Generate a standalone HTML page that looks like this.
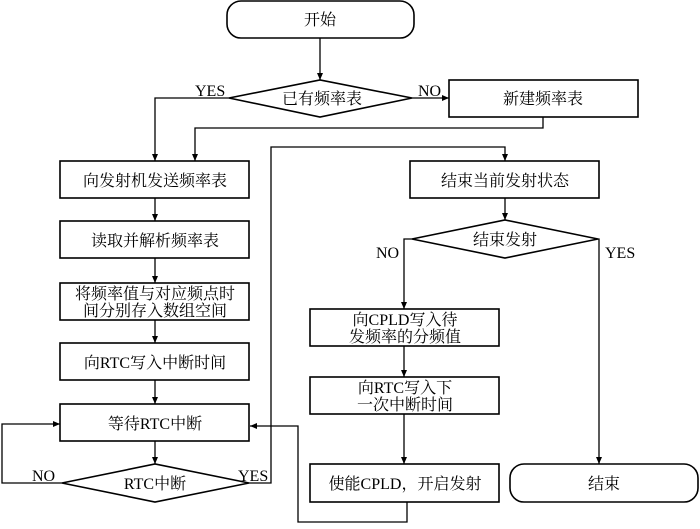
<!DOCTYPE html>
<html><head><meta charset="utf-8"><style>
html,body{margin:0;padding:0;background:#fff}
svg text{font-family:"Liberation Serif","Noto Serif CJK SC",serif;font-size:16px;fill:#000}
</style></head><body>
<svg width="700" height="524" viewBox="0 0 700 524" xmlns="http://www.w3.org/2000/svg">
<defs><marker id="a" markerWidth="8" markerHeight="8" refX="7" refY="4" orient="auto" markerUnits="userSpaceOnUse"><path d="M0,1 L7,4 L0,7 Z" fill="#000"/></marker></defs>
<g fill="none" stroke="#000" stroke-width="1.6">
<rect x="227" y="1" width="187" height="37" rx="14"/>
<polygon points="229,98 320,80 412,98 320,117"/>
<rect x="449" y="80" width="189" height="37"/>
<rect x="60" y="161" width="189" height="37"/>
<rect x="60" y="221" width="189" height="37"/>
<rect x="60" y="283" width="189" height="37"/>
<rect x="60" y="343" width="189" height="37"/>
<rect x="60" y="404" width="189" height="37"/>
<polygon points="62,483 155,464 249,483 155,502"/>
<rect x="410" y="161" width="189" height="37"/>
<polygon points="412,239 505,220 598,239 505,258"/>
<rect x="310" y="309" width="189" height="37"/>
<rect x="310" y="377" width="189" height="37"/>
<rect x="310" y="464" width="189" height="38"/>
<rect x="510" y="464" width="188" height="38" rx="14"/>
</g>
<g fill="none" stroke="#000" stroke-width="1.3">
<path d="M320,38 V80" marker-end="url(#a)"/>
<path d="M229,98 H155 V161" marker-end="url(#a)"/>
<path d="M412,98 H449" marker-end="url(#a)"/>
<path d="M543,117 V128 H195 V161" marker-end="url(#a)"/>
<path d="M155,198 V221" marker-end="url(#a)"/>
<path d="M155,258 V283" marker-end="url(#a)"/>
<path d="M155,320 V343" marker-end="url(#a)"/>
<path d="M155,380 V404" marker-end="url(#a)"/>
<path d="M155,441 V464" marker-end="url(#a)"/>
<path d="M62,483 H2 V424 H60" marker-end="url(#a)"/>
<path d="M249,483 H271 V147 H505 V161" marker-end="url(#a)"/>
<path d="M505,198 V220" marker-end="url(#a)"/>
<path d="M412,239 H404 V309" marker-end="url(#a)"/>
<path d="M598,239 H599 V464" marker-end="url(#a)"/>
<path d="M404,346 V377" marker-end="url(#a)"/>
<path d="M404,414 V464" marker-end="url(#a)"/>
<path d="M407,502 V522 H298 V426 H250" marker-end="url(#a)"/>
</g>
<g text-anchor="middle">
<text x="320" y="25">开始</text>
<text x="322" y="104">已有频率表</text>
<text x="543" y="104">新建频率表</text>
<text x="155" y="186">向发射机发送频率表</text>
<text x="155" y="246">读取并解析频率表</text>
<text x="155" y="299">将频率值与对应频点时</text>
<text x="155" y="316">间分别存入数组空间</text>
<text x="155" y="368">向RTC写入中断时间</text>
<text x="155" y="429">等待RTC中断</text>
<text x="155" y="489">RTC中断</text>
<text x="505" y="186">结束当前发射状态</text>
<text x="505" y="245">结束发射</text>
<text x="405" y="325">向CPLD写入待</text>
<text x="405" y="342">发频率的分频值</text>
<text x="405" y="393">向RTC写入下</text>
<text x="405" y="410">一次中断时间</text>
<text x="405" y="489">使能CPLD，开启发射</text>
<text x="604" y="489">结束</text>
</g>
<text x="195" y="96">YES</text>
<text x="418" y="96">NO</text>
<text x="376" y="258">NO</text>
<text x="605" y="258">YES</text>
<text x="32" y="481">NO</text>
<text x="238" y="481">YES</text>
</svg>
</body></html>
